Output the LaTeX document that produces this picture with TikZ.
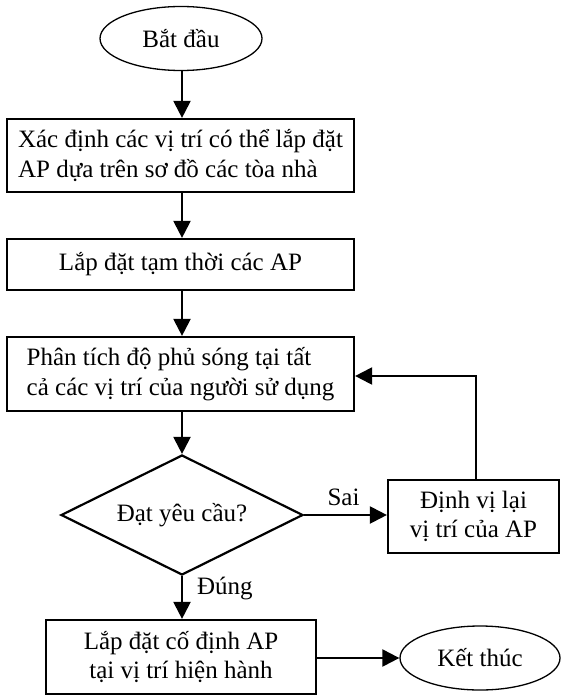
\documentclass[tikz,border=0pt]{standalone}
\usepackage{fontspec}
\setmainfont{Liberation Serif}
\usetikzlibrary{shapes.geometric,arrows.meta}
\tikzset{
  base/.style={font=\fontsize{25}{29.5}\selectfont, inner sep=0pt},
  procbox/.style={base, draw, line width=2.2pt, rectangle},
  termbox/.style={base, draw, line width=1.3pt, ellipse, minimum width=162pt, minimum height=64pt},
  decbox/.style={base, draw, line width=2.2pt, diamond, aspect=2, minimum width=242pt, minimum height=120pt},
  flow/.style={line width=2.2pt, -{Triangle[length=17pt,width=17pt]}},
  lbl/.style={font=\fontsize{25}{29.5}\selectfont, inner sep=0pt}
}
\begin{document}
\begin{tikzpicture}[x=1pt,y=-1pt]
\useasboundingbox (0,0) rectangle (561,695);
\node[termbox] (start) at (181,38.5) {Bắt đầu};
\node[procbox, minimum width=347pt, minimum height=73pt, align=left] (b1) at (180.5,155.5)
  {Xác định các vị trí có thể lắp đặt\\AP dựa trên sơ đồ các tòa nhà};
\node[procbox, minimum width=347pt, minimum height=51pt] (b2) at (180.5,264.5) {Lắp đặt tạm thời các AP};
\node[procbox, minimum width=347pt, minimum height=74pt, align=left] (b3) at (180.5,374)
  {Phân tích độ phủ sóng tại tất\\cả các vị trí của người sử dụng};
\node[decbox] (d) at (182,515) {Đạt yêu cầu?};
\node[procbox, minimum width=171pt, minimum height=73pt, align=center] (r) at (473.5,516.5)
  {Định vị lại\\vị trí của AP};
\node[procbox, minimum width=270pt, minimum height=74pt, align=center] (b4) at (181,657)
  {Lắp đặt cố định AP\\tại vị trí hiện hành};
\node[termbox, minimum width=160pt] (end) at (480,658) {Kết thúc};
\coordinate (fb) at (476,376);
\draw[flow] (start.south -| 182,0) -- (b1.north -| 182,0);
\draw[flow] (b1.south -| 182,0) -- (b2.north -| 182,0);
\draw[flow] (b2.south -| 182,0) -- (b3.north -| 182,0);
\draw[flow] (b3.south -| 182,0) -- (d.north);
\draw[flow] (d.east) -- (d.east -| r.west) node[lbl, midway, above=8pt, xshift=-2pt] {Sai};
\draw[flow] (d.south) -- (b4.north -| d.south) node[lbl, pos=0.3, right=14pt] {Đúng};
\draw[flow] (r.north -| fb) -- (fb) -- (fb -| b3.east);
\draw[flow] (b4.east |- end.west) -- (end.west);
\end{tikzpicture}
\end{document}
